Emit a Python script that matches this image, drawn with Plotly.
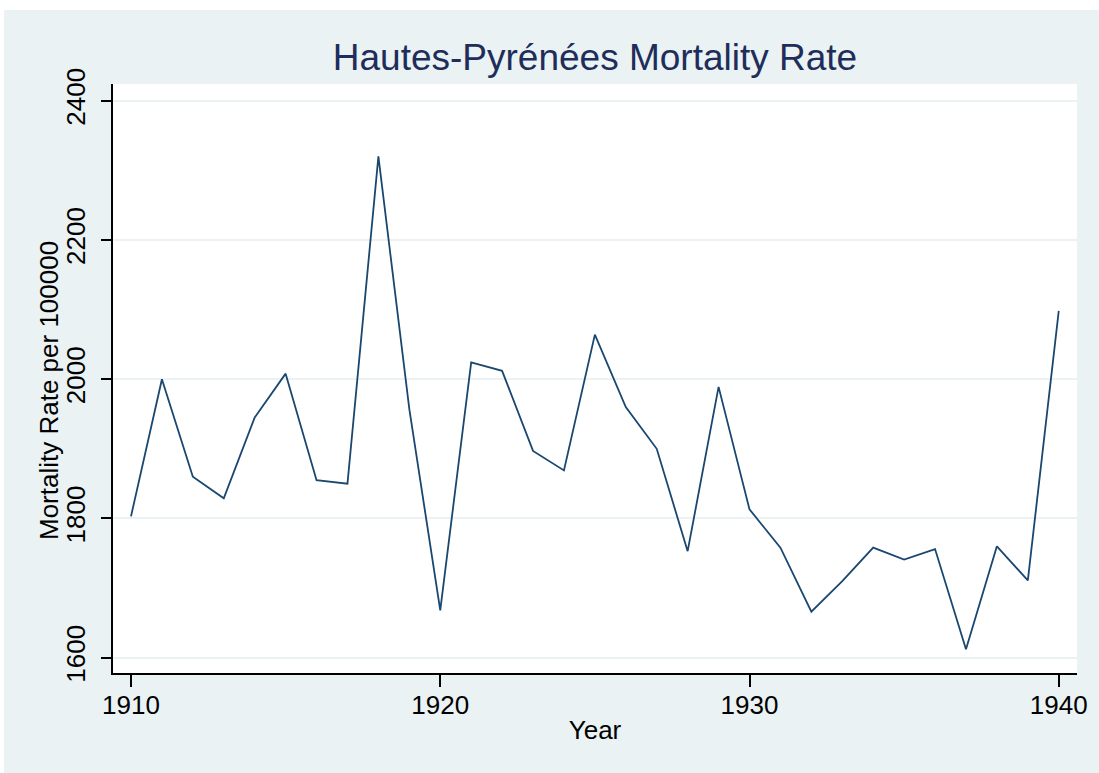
import plotly.graph_objects as go

years = list(range(1910, 1941))
mortality = [1803, 2000, 1860, 1829, 1945, 2008, 1855, 1850, 2320, 1957,
             1668, 2024, 2012, 1897, 1869, 2064, 1960, 1900, 1753, 1989,
             1813, 1758, 1666, 1710, 1758, 1741, 1756, 1612, 1760, 1711, 2098]
x_ticks = [1910, 1920, 1930, 1940]
y_ticks = [1600, 1800, 2000, 2200, 2400]

W, H = 1099, 773
L, R, T, B = 113, 22, 84, 100
pw, ph = W - L - R, H - T - B

def px_to_paper_x(px):
    return (px - L) / pw

def px_to_paper_y(py):
    return (H - B - py) / ph

BG = "rgb(234,242,243)"
FONT = "Liberation Sans, Arial, sans-serif"

fig = go.Figure()
fig.add_trace(go.Scatter(
    x=years, y=mortality, mode="lines",
    line=dict(color="rgb(26,71,111)", width=1.8),
    showlegend=False,
))

fig.update_layout(
    width=W, height=H,
    margin=dict(l=L, r=R, t=T, b=B),
    paper_bgcolor=BG,
    plot_bgcolor="white",
    font=dict(family=FONT, size=26, color="black"),
    title=dict(
        text="Hautes-Pyrénées Mortality Rate",
        font=dict(family=FONT, size=37, color="rgb(30,45,90)"),
        x=px_to_paper_x(595), xref="paper", xanchor="center",
        y=1 - 57 / H, yref="container", yanchor="middle",
    ),
    xaxis=dict(
        range=[1909.418, 1940.59],
        tickvals=x_ticks,
        ticks="outside", ticklen=12, tickwidth=1.5, tickcolor="black",
        showline=True, linecolor="black", linewidth=1.5,
        showgrid=False, zeroline=False,
        tickfont=dict(size=26, color="black"),
        ticklabelstandoff=-4,
        title=dict(text="Year", font=dict(size=26, color="black"), standoff=2),
    ),
    yaxis=dict(
        range=[1578, 2424],
        tickvals=y_ticks,
        tickangle=-90,
        ticks="outside", ticklen=10, tickwidth=1.5, tickcolor="black",
        showline=True, linecolor="black", linewidth=1.5,
        showgrid=True, gridcolor=BG, gridwidth=1.5,
        zeroline=False,
        tickfont=dict(size=26, color="black"),
        ticklabelstandoff=6,
    ),
    annotations=[
        dict(text="Mortality Rate per 100000", textangle=-90,
             xref="paper", yref="paper",
             x=px_to_paper_x(49), y=px_to_paper_y(391),
             xanchor="center", yanchor="middle",
             showarrow=False, font=dict(size=26, color="black")),
    ],
    shapes=[
        dict(type="rect", xref="paper", yref="paper", layer="above",
             x0=px_to_paper_x(0), x1=px_to_paper_x(W),
             y0=px_to_paper_y(10), y1=px_to_paper_y(0),
             fillcolor="white", line=dict(width=0)),
        dict(type="rect", xref="paper", yref="paper", layer="above",
             x0=px_to_paper_x(0), x1=px_to_paper_x(4),
             y0=px_to_paper_y(H), y1=px_to_paper_y(0),
             fillcolor="white", line=dict(width=0)),
    ],
)

fig.write_html("out.html", config={"displayModeBar": False},
               post_script="document.body.style.margin='0px';")
